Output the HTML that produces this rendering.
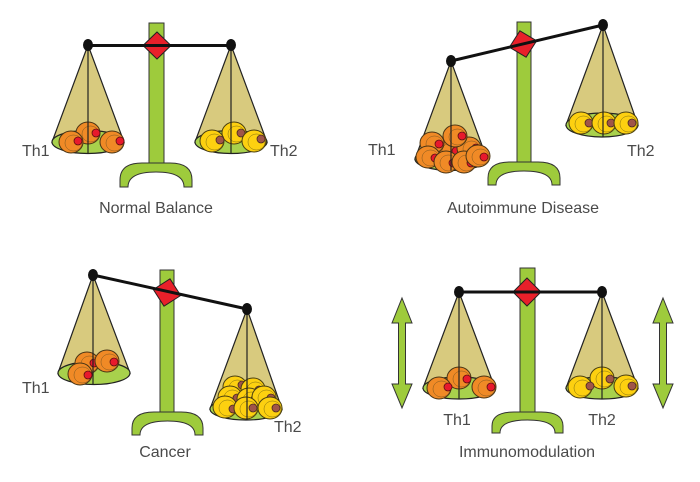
<!DOCTYPE html>
<html><head><meta charset="utf-8"><style>
html,body{margin:0;padding:0;background:#fff;}
svg{display:block;}
text{font-family:"Liberation Sans",sans-serif;font-size:16px;fill:#4a4a4a;}
</style></head><body>
<svg width="700" height="482" viewBox="0 0 700 482" xmlns="http://www.w3.org/2000/svg">
<defs>
<g id="oc"><ellipse cx="0" cy="0" rx="12" ry="11" fill="#f08a26" stroke="#4a3515" stroke-width="1"/><ellipse cx="2.5" cy="1" rx="8.5" ry="8" fill="none" stroke="#7a5520" stroke-width="0.5"/></g>
<g id="yc"><ellipse cx="0" cy="0" rx="12" ry="11" fill="#fdd010" stroke="#4a3f10" stroke-width="1"/><ellipse cx="2.5" cy="1" rx="8.5" ry="8" fill="none" stroke="#7a6a10" stroke-width="0.5"/></g>
<circle id="rn" cx="0" cy="0" r="4" fill="#e8192c" stroke="#5a1010" stroke-width="0.8"/>
<circle id="bn" cx="0" cy="0" r="4" fill="#a05548" stroke="#4a2a20" stroke-width="0.8"/>
</defs>

<!-- ================= PANEL 1: Normal Balance ================= -->
<rect x="149" y="23" width="15" height="142" fill="#9ecb3c" stroke="#333" stroke-width="1"/>
<path d="M120,187 L120,180 Q120,163 142,163 L170,163 Q192,163 192,180 L192,187 L184,187 Q184,172 156,172 Q128,172 128,187 Z" fill="#9ecb3c" stroke="#333" stroke-width="1"/>
<polygon points="88,45 52,142 124,142" fill="#d8ca7e" stroke="#222" stroke-width="1.2"/>
<ellipse cx="88" cy="142" rx="36" ry="11.5" fill="#a8d14c" stroke="#222" stroke-width="1.2"/>
<use href="#oc" x="88" y="133"/><use href="#rn" x="96" y="133"/>
<use href="#oc" x="71" y="142"/><use href="#rn" x="78" y="141"/>
<use href="#oc" x="112" y="142"/><use href="#rn" x="120" y="141"/>
<line x1="88" y1="45" x2="88" y2="153.5" stroke="#222" stroke-width="1.2"/>
<polygon points="231,45 195,142 267,142" fill="#d8ca7e" stroke="#222" stroke-width="1.2"/>
<ellipse cx="231" cy="142" rx="36" ry="11.5" fill="#a8d14c" stroke="#222" stroke-width="1.2"/>
<use href="#yc" x="234" y="133"/><use href="#bn" x="241" y="133"/>
<use href="#yc" x="212" y="141"/><use href="#bn" x="220" y="140"/>
<use href="#yc" x="254" y="141"/><use href="#bn" x="261" y="139"/>
<line x1="231" y1="45" x2="231" y2="153.5" stroke="#222" stroke-width="1.2"/>
<polygon points="143,45.5 157,32 171,45.5 157,59" fill="#e8202a" stroke="#222" stroke-width="1"/>
<line x1="88" y1="45.5" x2="231" y2="45.5" stroke="#111" stroke-width="3"/>
<ellipse cx="88" cy="45" rx="5" ry="6" fill="#111"/>
<ellipse cx="231" cy="45" rx="5" ry="6" fill="#111"/>
<text x="22" y="156">Th1</text>
<text x="270" y="156">Th2</text>
<text x="156" y="213" text-anchor="middle">Normal Balance</text>

<!-- ================= PANEL 2: Autoimmune Disease ================= -->
<rect x="517" y="22" width="14" height="142" fill="#9ecb3c" stroke="#333" stroke-width="1"/>
<path d="M488,185 L488,178 Q488,162 510,162 L538,162 Q560,162 560,178 L560,185 L552,185 Q552,171 524,171 Q496,171 496,185 Z" fill="#9ecb3c" stroke="#333" stroke-width="1"/>
<polygon points="451,61 415,159 487,159" fill="#d8ca7e" stroke="#222" stroke-width="1.2"/>
<ellipse cx="451" cy="159" rx="36" ry="11.5" fill="#a8d14c" stroke="#222" stroke-width="1.2"/>
<use href="#oc" x="448" y="150"/><use href="#rn" x="456" y="151"/>
<use href="#oc" x="469" y="148"/><use href="#rn" x="476" y="148"/>
<use href="#oc" x="432" y="143"/><use href="#rn" x="439" y="144"/>
<use href="#oc" x="455" y="136"/><use href="#rn" x="462" y="136"/>
<use href="#oc" x="428" y="157"/><use href="#rn" x="435" y="158"/>
<use href="#oc" x="446" y="162"/><use href="#rn" x="453" y="163"/>
<use href="#oc" x="464" y="162"/><use href="#rn" x="471" y="163"/>
<use href="#oc" x="478" y="156"/><use href="#rn" x="484" y="157"/>
<line x1="451" y1="61" x2="451" y2="170.5" stroke="#222" stroke-width="1.2"/>
<polygon points="603,25 566,125 638,125" fill="#d8ca7e" stroke="#222" stroke-width="1.2"/>
<ellipse cx="602" cy="125" rx="36" ry="12" fill="#a8d14c" stroke="#222" stroke-width="1.2"/>
<use href="#yc" x="581" y="123"/><use href="#bn" x="589" y="123"/>
<use href="#yc" x="604" y="123"/><use href="#bn" x="611" y="123"/>
<use href="#yc" x="626" y="123"/><use href="#bn" x="632" y="123"/>
<line x1="603" y1="25" x2="603" y2="137" stroke="#222" stroke-width="1.2"/>
<polygon points="509,44 523,30.5 537,44 523,57.5" fill="#e8202a" stroke="#222" stroke-width="1" transform="rotate(-13.3 523 44)"/>
<line x1="451" y1="61" x2="603" y2="25" stroke="#111" stroke-width="3"/>
<ellipse cx="451" cy="61" rx="5" ry="6" fill="#111"/>
<ellipse cx="603" cy="25" rx="5" ry="6" fill="#111"/>
<text x="368" y="155">Th1</text>
<text x="627" y="156">Th2</text>
<text x="523" y="213" text-anchor="middle">Autoimmune Disease</text>

<!-- ================= PANEL 3: Cancer ================= -->
<rect x="160" y="270" width="14" height="144" fill="#9ecb3c" stroke="#333" stroke-width="1"/>
<path d="M132,435 L132,428 Q132,412 154,412 L181,412 Q203,412 203,428 L203,435 L195,435 Q195,421 167.5,421 Q140,421 140,435 Z" fill="#9ecb3c" stroke="#333" stroke-width="1"/>
<polygon points="93,275 58,373 130,373" fill="#d8ca7e" stroke="#222" stroke-width="1.2"/>
<ellipse cx="94" cy="373" rx="36" ry="11.5" fill="#a8d14c" stroke="#222" stroke-width="1.2"/>
<use href="#oc" x="87" y="363"/><use href="#rn" x="94" y="363"/>
<use href="#oc" x="107" y="361"/><use href="#rn" x="114" y="362"/>
<use href="#oc" x="80" y="374"/><use href="#rn" x="88" y="375"/>
<line x1="93" y1="275" x2="93" y2="384.5" stroke="#222" stroke-width="1.2"/>
<polygon points="247,309 210,409 282,409" fill="#d8ca7e" stroke="#222" stroke-width="1.2"/>
<ellipse cx="246" cy="409" rx="36" ry="11" fill="#a8d14c" stroke="#222" stroke-width="1.2"/>
<use href="#yc" x="235" y="387"/><use href="#bn" x="242" y="385"/>
<use href="#yc" x="253" y="389"/><use href="#bn" x="259" y="390"/>
<use href="#yc" x="230" y="397"/><use href="#bn" x="237" y="398"/>
<use href="#yc" x="249" y="399"/><use href="#bn" x="255" y="399"/>
<use href="#yc" x="264" y="397"/><use href="#bn" x="271" y="398"/>
<use href="#yc" x="225" y="407"/><use href="#bn" x="233" y="409"/>
<use href="#yc" x="246" y="408"/><use href="#bn" x="253" y="408"/>
<use href="#yc" x="270" y="408"/><use href="#bn" x="276" y="408"/>
<line x1="247" y1="309" x2="247" y2="420" stroke="#222" stroke-width="1.2"/>
<polygon points="153,292.5 167,278.5 181,292.5 167,306.5" fill="#e8202a" stroke="#222" stroke-width="1" transform="rotate(12.4 167 292.5)"/>
<line x1="93" y1="275" x2="247" y2="309" stroke="#111" stroke-width="3"/>
<ellipse cx="93" cy="275" rx="5" ry="6" fill="#111"/>
<ellipse cx="247" cy="309" rx="5" ry="6" fill="#111"/>
<text x="22" y="393">Th1</text>
<text x="274" y="432">Th2</text>
<text x="165" y="457" text-anchor="middle">Cancer</text>

<!-- ================= PANEL 4: Immunomodulation ================= -->
<rect x="520" y="268" width="15" height="146" fill="#9ecb3c" stroke="#333" stroke-width="1"/>
<path d="M492,433 L492,426 Q492,412 514,412 L541,412 Q563,412 563,426 L563,433 L555,433 Q555,420 527.5,420 Q500,420 500,433 Z" fill="#9ecb3c" stroke="#333" stroke-width="1"/>
<polygon points="459,292 423,388 495,388" fill="#d8ca7e" stroke="#222" stroke-width="1.2"/>
<ellipse cx="459" cy="388" rx="36" ry="11" fill="#a8d14c" stroke="#222" stroke-width="1.2"/>
<use href="#oc" x="459" y="378"/><use href="#rn" x="467" y="379"/>
<use href="#oc" x="439" y="388"/><use href="#rn" x="448" y="387"/>
<use href="#oc" x="484" y="387"/><use href="#rn" x="491" y="387"/>
<line x1="459" y1="292" x2="459" y2="399" stroke="#222" stroke-width="1.2"/>
<polygon points="602,292 566,388 638,388" fill="#d8ca7e" stroke="#222" stroke-width="1.2"/>
<ellipse cx="602" cy="388" rx="36" ry="11" fill="#a8d14c" stroke="#222" stroke-width="1.2"/>
<use href="#yc" x="602" y="378"/><use href="#bn" x="610" y="379"/>
<use href="#yc" x="580" y="387"/><use href="#bn" x="590" y="386"/>
<use href="#yc" x="626" y="386"/><use href="#bn" x="632" y="386"/>
<line x1="602" y1="292" x2="602" y2="399" stroke="#222" stroke-width="1.2"/>
<polygon points="513,292 527,278 541,292 527,306" fill="#e8202a" stroke="#222" stroke-width="1"/>
<line x1="459" y1="292" x2="602" y2="292" stroke="#111" stroke-width="3"/>
<ellipse cx="459" cy="292" rx="5" ry="6" fill="#111"/>
<ellipse cx="602" cy="292" rx="5" ry="6" fill="#111"/>
<path d="M402,298 L412,323 L405.5,323 L405.5,384 L412,384 L402,408 L392,384 L398.5,384 L398.5,323 L392,323 Z" fill="#9ecb3c" stroke="#333" stroke-width="1"/>
<path d="M663,298 L673,323 L666.5,323 L666.5,384 L673,384 L663,408 L653,384 L659.5,384 L659.5,323 L653,323 Z" fill="#9ecb3c" stroke="#333" stroke-width="1"/>
<text x="457" y="425" text-anchor="middle">Th1</text>
<text x="602" y="425" text-anchor="middle">Th2</text>
<text x="527" y="457" text-anchor="middle">Immunomodulation</text>
</svg>
</body></html>
